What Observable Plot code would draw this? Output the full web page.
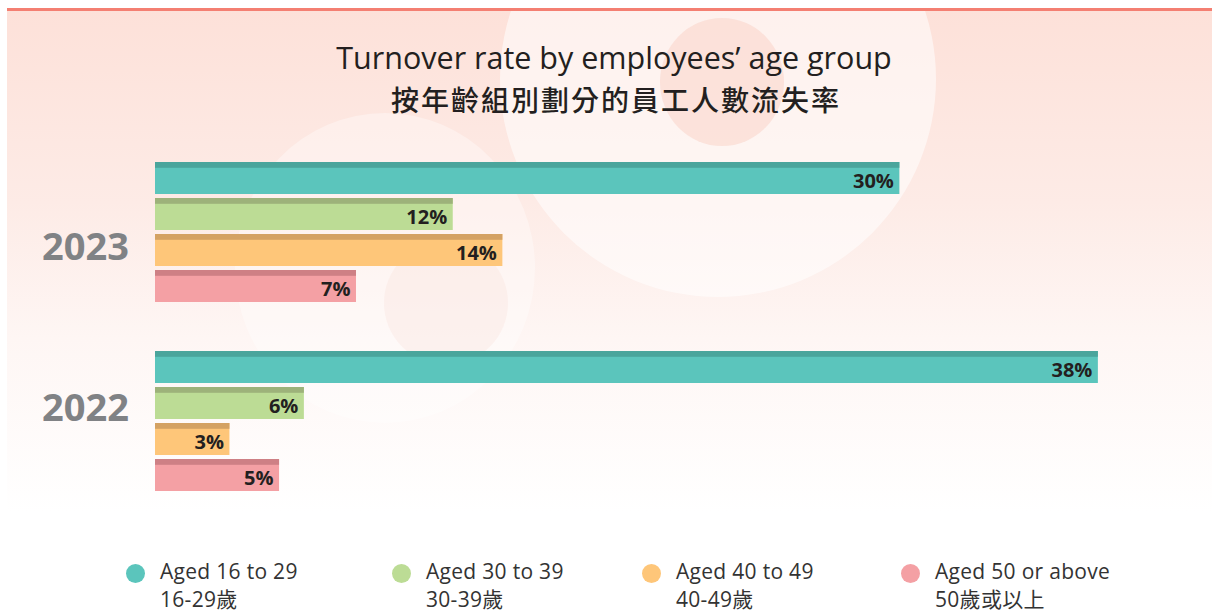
<!DOCTYPE html>
<html>
<head>
<meta charset="utf-8">
<script src="https://cdn.jsdelivr.net/npm/d3@7"></script>
<script src="https://cdn.jsdelivr.net/npm/@observablehq/plot@0.6"></script>
<style>
  html, body { margin:0; padding:0; }
  body { width:1212px; height:614px; position:relative; overflow:hidden; background:#fff; font-family:"Open Sans","Noto Sans CJK TC",sans-serif; }
  #bg { position:absolute; left:7px; top:8px; width:1205px; height:545px; border-top:3px solid #f47f72;
        background:linear-gradient(to bottom, #fde1d9 0%, #fdebe6 35%, #fef6f4 60%, #ffffff 92%); overflow:hidden; }
  .circ { position:absolute; border-radius:50%; }
  .title { position:absolute; left:8px; width:1212px; text-align:center; color:#231f20; }
  #t1 { top:36px; font-size:30.5px; }
  #t2 { top:79px; font-size:28px; font-weight:500; letter-spacing:2px; padding-left:2px; font-family:"Noto Sans CJK TC",sans-serif; }
  #chart { position:absolute; left:0; top:150px; }
  .leg { position:absolute; top:556.5px; font-size:21px; letter-spacing:0.3px; color:#333; line-height:28.6px; }
  .leg .dot { position:absolute; left:-34px; top:7px; width:19px; height:19px; border-radius:50%; }
  .leg .zh { font-family:"Open Sans","Noto Sans CJK TC",sans-serif; }
</style>
</head>
<body>
<div id="bg">
  <div class="circ" style="left:493px; top:-150px; width:436px; height:436px; background:rgba(255,255,255,0.55);"></div>
  <div class="circ" style="left:653px; top:7px; width:124px; height:128px; background:rgba(249,212,200,0.55);"></div>
  <div class="circ" style="left:228px; top:102px; width:300px; height:310px; background:rgba(255,255,255,0.35);"></div>
  <div class="circ" style="left:377px; top:230px; width:124px; height:124px; background:rgba(250,222,214,0.30);"></div>
</div>
<div class="title" id="t1">Turnover rate by employees’ age group</div>
<div class="title" id="t2">按年齡組別劃分的員工人數流失率</div>
<div id="chart"></div>
<div id="legend"></div>
<script>
// ---- data ----
const years = ["2023", "2022"];
const groups = ["16-29", "30-39", "40-49", "50+"];
const rates2023 = [30, 12, 14, 8.1];   // bar lengths as drawn
const rates2022 = [38, 6, 3, 5];
const labels2023 = ["30%", "12%", "14%", "7%"];
const labels2022 = ["38%", "6%", "3%", "5%"];
const legendEn = ["Aged 16 to 29", "Aged 30 to 39", "Aged 40 to 49", "Aged 50 or above"];
const legendZh = ["16-29歲", "30-39歲", "40-49歲", "50歲或以上"];
const fills = ["#5bc5bc", "#bcdc95", "#fec679", "#f4a0a4"];
const strips = ["#4aa59c", "#9db27a", "#d4a263", "#ce8085"];

const data = [];
groups.forEach((g, i) => {
  data.push({year: "2023", group: g, value: rates2023[i], label: labels2023[i], fill: fills[i], strip: strips[i]});
  data.push({year: "2022", group: g, value: rates2022[i], label: labels2022[i], fill: fills[i], strip: strips[i]});
});

const chart = Plot.plot({
  width: 1212,
  height: 360,
  marginLeft: 155,
  marginRight: 0,
  marginTop: 11,
  marginBottom: 17.5,
  style: {background: "transparent", overflow: "visible"},
  x: {domain: [0, 42.6], axis: null},
  y: {domain: groups, paddingInner: 0.1, paddingOuter: 0, axis: null},
  fy: {domain: years, paddingInner: 0.2525, paddingOuter: 0, axis: null},
  marks: [
    Plot.barX(data, {x: "value", y: "group", fy: "year", fill: d => d.fill}),
    Plot.barX(data, {x: "value", y: "group", fy: "year", fill: d => d.strip, insetBottom: 26.2}),
    Plot.text(data, {x: "value", y: "group", fy: "year", text: "label", textAnchor: "end", dx: -6, dy: 3,
      fontSize: 20, fontWeight: "bold", fill: "#231f20", fontFamily: "Open Sans", letterSpacing: 0.5}),
    Plot.text(["2023"], {fy: d => d, text: d => d, frameAnchor: "left", dx: -70, dy: 15, textAnchor: "middle",
      fontSize: 38, fontWeight: "bold", fill: "#808285", fontFamily: "Open Sans"}),
    Plot.text(["2022"], {fy: d => d, text: d => d, frameAnchor: "left", dx: -70, dy: -13.6, textAnchor: "middle",
      fontSize: 38, fontWeight: "bold", fill: "#808285", fontFamily: "Open Sans"})
  ]
});
document.getElementById("chart").appendChild(chart);

const legX = [160, 426, 676, 935];
const leg = document.getElementById("legend");
legendEn.forEach((t, i) => {
  const el = document.createElement("div");
  el.className = "leg";
  el.style.left = legX[i] + "px";
  el.innerHTML = `<span class="dot" style="background:${fills[i]}"></span><div>${t}</div><div class="zh">${legendZh[i]}</div>`;
  leg.appendChild(el);
});
</script>
</body>
</html>
